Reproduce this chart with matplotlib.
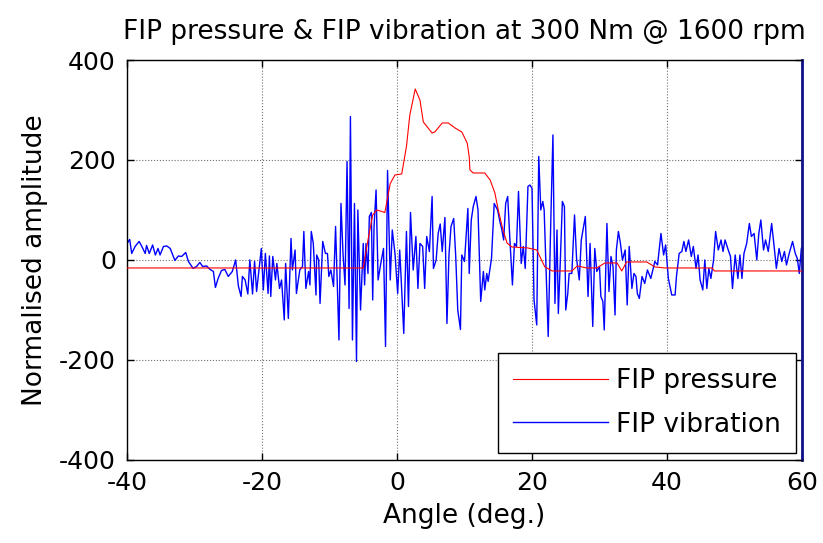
import matplotlib.pyplot as plt
import numpy as np

# pressure trace (angle in deg, normalised amplitude)
press_angle = [-40, -5.0, -4.3, -3.6, -3.0, -1.8, -1.0, -0.3, 0.7, 1.4, 1.9, 2.7, 3.4,
               3.9, 5.2, 5.6, 6.7, 7.6, 8.6, 9.6, 10.4, 10.7, 10.8, 11.3, 13.0, 13.8,
               14.5, 15.0, 15.7, 16.3, 17.0, 19.4, 20.7, 21.9, 23.0, 25.9, 26.7, 28.1,
               29.6, 30.8, 32.6, 33.3, 34.0, 37.0, 38.2, 39.7, 46.7, 47.0, 60]
press_value = [-16, -16, 40, 90, 100, 95, 153, 170, 172, 227, 290, 342, 320,
               276, 254, 256, 274, 274, 264, 256, 234, 206, 180, 174, 174, 160,
               134, 100, 60, 34, 26, 24, 20, -14, -22, -22, -12, -16,
               -16, -6, -6, -22, -4, -4, -14, -16, -16, -22, -22]

# vibration trace
vib_angle = [-40.0, -39.6, -39.3, -38.8, -38.2, -37.8, -37.3, -37.1, -36.7, -36.2,
             -35.8, -35.4, -35.1, -34.6, -34.1, -33.6, -32.9, -32.4, -31.9, -31.3,
             -30.9, -30.2, -29.7, -29.2, -28.8, -28.2, -27.7, -27.2, -26.9, -26.5,
             -26.0, -25.5, -25.0, -24.4, -23.9, -23.5, -23.1, -22.9, -22.5, -22.1,
             -21.8, -21.4, -21.1, -20.8, -20.1, -19.8, -19.5, -19.1, -18.9, -18.7,
             -18.4, -18.0, -17.8, -17.4, -17.1, -16.7, -16.5, -16.1, -15.7, -15.5,
             -15.1, -14.9, -14.4, -14.0, -13.8, -13.5, -13.1, -12.9, -12.7, -12.4,
             -12.0, -11.9, -11.6, -11.4, -11.0, -10.6, -10.3, -10.1, -9.8, -9.4,
             -9.1, -8.6, -8.3, -8.0, -7.7, -7.4, -7.1, -6.9, -6.6, -6.3,
             -6.0, -5.8, -5.4, -5.0, -4.8, -4.6, -4.3, -4.1, -3.8, -3.6,
             -3.4, -3.1, -2.8, -2.4, -2.0, -1.7, -1.4, -1.0, -0.7, -0.3,
             0.1, 0.4, 0.6, 1.0, 1.4, 1.7, 2.0, 2.4, 2.8, 3.1,
             3.4, 3.8, 4.1, 4.4, 4.8, 5.2, 5.4, 5.8, 6.1, 6.4,
             6.7, 7.1, 7.4, 7.7, 8.0, 8.4, 8.7, 9.0, 9.4, 9.6,
             10.0, 10.5, 10.7, 11.0, 11.3, 11.7, 12.0, 12.4, 12.8, 13.0,
             13.3, 13.5, 14.0, 14.4, 14.9, 15.3, 15.5, 15.8, 16.1, 16.4,
             16.7, 17.1, 17.4, 17.7, 18.0, 18.4, 18.7, 19.0, 19.4, 19.7,
             20.0, 20.3, 20.7, 21.0, 21.3, 21.6, 21.8, 22.1, 22.4, 22.8,
             23.1, 23.4, 23.7, 23.9, 24.2, 24.5, 24.8, 25.0, 25.3, 25.5,
             25.9, 26.3, 26.6, 27.0, 27.3, 27.6, 27.9, 28.3, 28.6, 29.0,
             29.3, 29.6, 30.0, 30.2, 30.5, 30.7, 31.1, 31.4, 31.7, 32.0,
             32.3, 32.5, 32.8, 33.1, 33.4, 33.8, 34.1, 34.4, 34.8, 35.1,
             35.4, 35.6, 35.9, 36.3, 36.7, 37.1, 37.6, 38.2, 38.6, 39.1,
             39.5, 39.8, 40.2, 40.7, 41.2, 41.4, 41.8, 42.2, 42.5, 42.8,
             43.2, 43.6, 43.9, 44.3, 44.6, 44.9, 45.3, 45.6, 45.9, 46.2,
             46.5, 46.9, 47.2, 47.6, 48.0, 48.3, 48.6, 49.0, 49.4, 49.7,
             50.1, 50.5, 50.8, 51.1, 51.4, 51.8, 52.2, 52.5, 52.9, 53.3,
             53.6, 53.9, 54.3, 54.6, 55.0, 55.5, 55.9, 56.2, 56.6, 57.0,
             57.4, 57.7, 58.1, 58.6, 59.0, 59.3, 59.6, 59.9, 60.4]
vib_value = [33, 41, 13, 27, 37, 27, 13, 29, 13, 30,
             10, 23, 10, 27, 28, 23, -1, 8, 7, 15,
             -3, -17, -13, -5, -13, -12, -19, -23, -55, -37,
             -21, -19, -33, -23, 0, -52, -73, -33, -40, -68,
             0, -68, -3, -63, 23, -60, 13, -67, 8, -73,
             7, -40, -7, -57, -40, -120, -7, -117, 43, -20,
             20, -67, -20, -13, 57, -57, -23, -50, 57, 33,
             -70, 10, 0, -87, 37, 13, 13, -33, -20, -53,
             67, -160, 113, 13, -50, 197, -97, 287, -160, 113,
             -203, 100, -100, 33, -50, 33, -27, 87, 95, -80,
             67, 140, -40, -7, 23, -173, 179, -40, 60, 13,
             -67, 20, -33, -147, 57, -93, 95, -20, 47, -57,
             33, 27, -57, 47, 17, 127, -17, 0, 53, 72,
             17, 85, -127, 10, 67, 83, 7, -100, -139, 10,
             -3, 103, -27, 80, 107, 127, 100, -83, -23, -60,
             -27, -43, 3, 113, 100, 73, 63, 40, 113, 127,
             47, -50, 33, 27, 137, -7, 27, -17, 147, 150,
             143, -80, -130, 207, 100, 117, 100, -27, -153, 87,
             250, -87, 60, -107, 0, 117, 107, -100, -67, -27,
             -27, 90, 3, -40, 40, 63, 87, -73, 33, -133,
             23, -23, -13, -73, -83, -140, 73, -63, 7, -13,
             -110, 20, 57, 33, 0, 20, -90, 27, -57, -27,
             -33, -67, -77, -33, -47, -20, -37, -3, -10, 53,
             10, 30, -37, -70, -70, -33, 13, 17, 37, 17,
             40, 7, 27, -17, 10, -40, -60, 0, -57, -17,
             -37, 0, 57, 20, 40, 17, 40, 23, 7, -57,
             10, -37, 10, -37, 13, 33, 73, 47, 53, 0,
             53, 80, 20, 40, 17, 73, 23, -17, 23, -3,
             17, -10, 13, 37, 13, 3, -27, 23, 37]

x_ticks = [-40, -20, 0, 20, 40, 60]
y_ticks = [-400, -200, 0, 200, 400]

plt.rcParams['font.family'] = 'DejaVu Sans'
plt.rcParams['axes.unicode_minus'] = False

fig = plt.figure(figsize=(8.23, 5.43), dpi=100)
ax = fig.add_axes([0.1543, 0.153, 0.8202, 0.7365])

ax.plot(press_angle, press_value, color='#ff0000', lw=0.8, label='FIP pressure', zorder=3)
ax.plot(vib_angle, vib_value, color='#0000ff', lw=1.0, label='FIP vibration', zorder=2)

ax.set_xlim(-40, 60)
ax.set_ylim(-400, 400)
ax.set_xticks(x_ticks)
ax.set_yticks(y_ticks)
ax.tick_params(direction='in', top=True, right=True, length=5, width=1,
               labelsize=18, pad=8)
ax.grid(True, color='#707070', linestyle=':', linewidth=0.8)

for s in ax.spines.values():
    s.set_linewidth(1.0)
ax.spines['right'].set_color('#10108a')
ax.spines['right'].set_linewidth(2.0)

ax.set_title('FIP pressure & FIP vibration at 300 Nm @ 1600 rpm', fontsize=19, pad=15)
ax.set_xlabel('Angle (deg.)', fontsize=19, labelpad=6)
ax.set_ylabel('Normalised amplitude', fontsize=19, labelpad=8)

leg = ax.legend(loc='lower right', bbox_to_anchor=(0.991, 0.0175), borderaxespad=0,
                fontsize=19, handlelength=3.6, handletextpad=0.3, borderpad=0.58,
                labelspacing=0.65, fancybox=False, framealpha=1, edgecolor='k')
leg.get_frame().set_linewidth(1.0)

plt.savefig('out.png', dpi=100)
